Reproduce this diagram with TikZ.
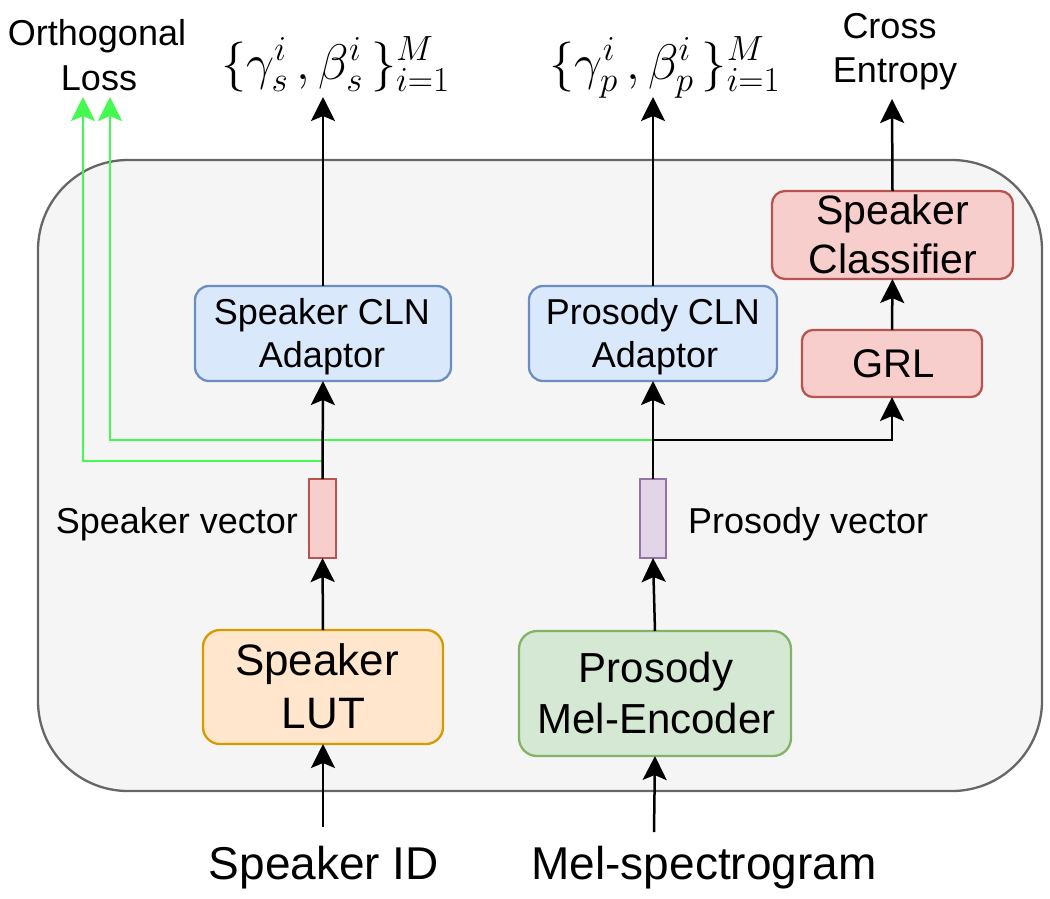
\RequirePackage{fix-cm}
\documentclass[tikz,border=0pt]{standalone}
\usepackage{fontspec}
\setmainfont{Liberation Sans}
\usetikzlibrary{arrows.meta}
\newcommand\myfs[1]{\fontsize{#1pt}{#1pt}\selectfont}
\definecolor{cfill}{HTML}{F5F5F5}
\definecolor{cgray}{HTML}{666666}
\definecolor{blueF}{HTML}{DAE8FC}
\definecolor{blueD}{HTML}{6C8EBF}
\definecolor{redF}{HTML}{F8CECC}
\definecolor{redD}{HTML}{B85450}
\definecolor{orF}{HTML}{FFE6CC}
\definecolor{orD}{HTML}{D79B00}
\definecolor{grF}{HTML}{D5E8D4}
\definecolor{grD}{HTML}{82B366}
\definecolor{puF}{HTML}{E1D5E7}
\definecolor{puD}{HTML}{9673A6}
\definecolor{lgreen}{HTML}{44F950}
\begin{document}
\begin{tikzpicture}[x=1pt,y=-1pt,
  box/.style={draw, line width=2.3pt, inner sep=0pt, outer sep=0pt},
  txt/.style={inner sep=0pt, outer sep=0pt, anchor=base, text=black},
  arr/.style={line width=2.5pt, -{Stealth[length=24pt,width=24pt,inset=5pt]}},
  garr/.style={line width=2.7pt, draw=lgreen, -{Stealth[length=24pt,width=24pt,inset=5pt]}},
  ]
\useasboundingbox (0,0) rectangle (1050,898);
% container
\node[box, draw=cgray, fill=cfill, rounded corners=90pt, minimum width=1004, minimum height=631] (cont) at (540,475.5) {};
% boxes
\node[box, draw=blueD, fill=blueF, rounded corners=14pt, minimum width=256, minimum height=95] (scln) at (323,333.5) {};
\node[box, draw=blueD, fill=blueF, rounded corners=14pt, minimum width=248, minimum height=95] (pcln) at (653,333.5) {};
\node[box, draw=redD, fill=redF, rounded corners=13pt, minimum width=241, minimum height=88] (cls) at (892.5,235) {};
\node[box, draw=redD, fill=redF, rounded corners=11pt, minimum width=180, minimum height=67] (grl) at (892,363.5) {};
\node[box, draw=orD, fill=orF, rounded corners=17pt, minimum width=240, minimum height=114] (lut) at (323,687) {};
\node[box, draw=grD, fill=grF, rounded corners=18pt, minimum width=272, minimum height=125] (enc) at (655,693.5) {};
\node[box, draw=redD, fill=redF, minimum width=27, minimum height=79] (svec) at (322.5,518.5) {};
\node[box, draw=puD, fill=puF, minimum width=26, minimum height=79] (pvec) at (653,518.5) {};
% box texts
\node[txt, font=\myfs{36}] (scln1) at (322,324.4) {Speaker CLN};
\node[txt, font=\myfs{36}] (scln2) at (322,367.6) {Adaptor};
\node[txt, font=\myfs{36}] (pcln1) at (653,324.4) {Prosody CLN};
\node[txt, font=\myfs{36}] (pcln2) at (655,367.6) {Adaptor};
\node[txt, font=\myfs{41}] (cls1) at (892.5,224.7) {Speaker};
\node[txt, font=\myfs{41}] (cls2) at (893,273.7) {Classifier};
\node[txt, font=\myfs{40}] (grl1) at (893.5,377.4) {GRL};
\node[txt, font=\myfs{44}] (lut1) at (317,675.3) {Speaker};
\node[txt, font=\myfs{44}] (lut2) at (323.5,728.1) {LUT};
\node[txt, font=\myfs{42}] (enc1) at (656,682.9) {Prosody};
\node[txt, font=\myfs{42}] (enc2) at (656.5,733.3) {Mel-Encoder};
% labels
\node[txt, font=\myfs{36}] (ol1) at (97,45) {Orthogonal};
\node[txt, font=\myfs{36}] (ol2) at (99,90) {Loss};
\node[txt, font=\myfs{36}] (ce1) at (889.5,38) {Cross};
\node[txt, font=\myfs{36}] (ce2) at (895,82) {Entropy};
\node[txt, font=\myfs{50}] (ms) at (335.5,79) {$\{\gamma_s^i\,, \beta_s^i\,\}_{i=1}^M$};
\node[txt, font=\myfs{50}] (mp) at (665,79) {$\{\gamma_p^i\,, \beta_p^i\,\}_{i=1}^M$};
\node[txt, font=\myfs{36}, anchor=base east] (svl) at (298,533) {Speaker vector};
\node[txt, font=\myfs{36}, anchor=base west] (pvl) at (688,533) {Prosody vector};
\node[txt, font=\myfs{46}] (sid) at (324,879) {Speaker ID};
\node[txt, font=\myfs{46}] (mel) at (704,879) {Mel-spectrogram};
% coordinates
\coordinate (sidin) at (323,827);
\coordinate (melin) at (654,832);
\coordinate (msin) at (323,97);
\coordinate (mpin) at (653,97);
\coordinate (cein) at (892,99);
\coordinate (g1) at (110,97);
\coordinate (g2) at (83,97);
\coordinate (pj) at (653,440);
\coordinate (sj) at (323,461);
% green connectors
\draw[garr] (pj) -| (g1);
\draw[garr] (sj) -| (g2);
% black connectors
\draw[arr] (sidin) -- (lut.south);
\draw[arr] (melin) -- (enc.south);
\draw[arr] (lut.north) -- (svec.south);
\draw[arr] (enc.north) -- (pvec.south);
\draw[arr] (svec.north) -- (scln.south);
\draw[arr] (pvec.north) -- (pcln.south);
\draw[arr] (scln.north) -- (msin);
\draw[arr] (pcln.north) -- (mpin);
\draw[arr] (pj) -| (grl.south);
\draw[arr] (grl.north) -- (cls.south);
\draw[arr] (cls.north) -- (cein);
\end{tikzpicture}
\end{document}
